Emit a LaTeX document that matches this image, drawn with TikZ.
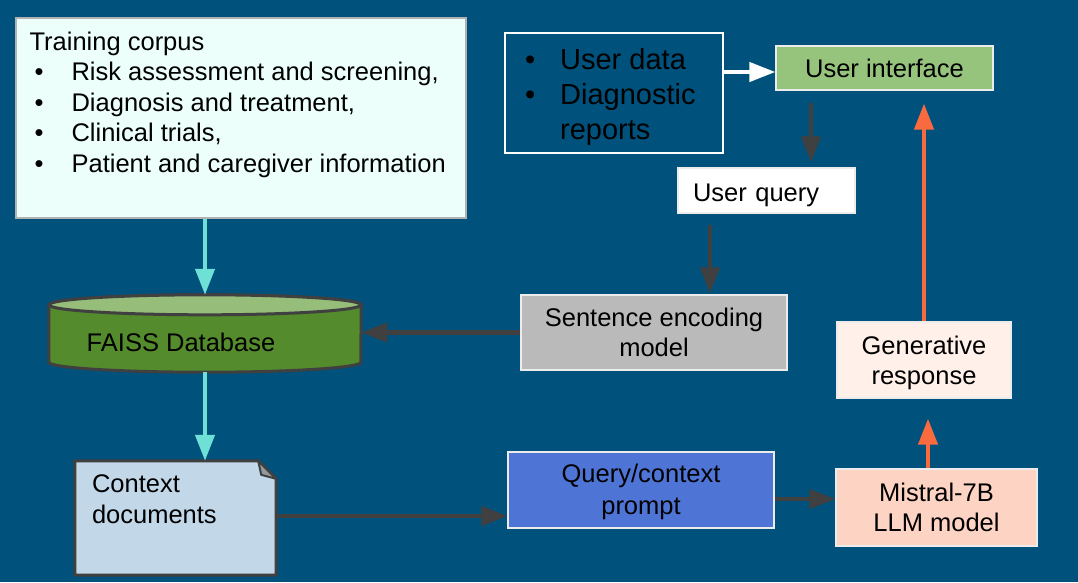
\documentclass[tikz,border=0pt]{standalone}
\usepackage{fontspec}
\setmainfont{Liberation Sans}
\usetikzlibrary{arrows.meta}
\definecolor{slidebg}{RGB}{0,81,124}
\definecolor{darkline}{RGB}{64,64,64}
\definecolor{corpusfill}{RGB}{236,255,250}
\definecolor{flowcyan}{RGB}{111,224,214}
\definecolor{dbbody}{RGB}{84,139,45}
\definecolor{dbtop}{RGB}{150,189,122}
\definecolor{docfill}{RGB}{194,216,233}
\definecolor{promptfill}{RGB}{78,116,214}
\definecolor{llmfill}{RGB}{253,212,196}
\definecolor{genfill}{RGB}{255,240,234}
\definecolor{uifill}{RGB}{151,196,125}
\definecolor{encfill}{RGB}{186,186,186}
\definecolor{flowred}{RGB}{249,106,62}

\begin{document}
\begin{tikzpicture}[x=1pt, y=-1pt,
    box/.style={rectangle, draw=white!85!gray, line width=1.2pt, inner sep=0pt, align=center, font=\fontsize{25.5}{30.5}\selectfont},
    txt/.style={inner sep=0pt, align=left, font=\fontsize{25.5}{30.5}\selectfont},
    darrow/.style={-{Triangle[length=26pt,width=19pt]}, line width=4.2pt, draw=darkline},
    carrow/.style={darrow, draw=flowcyan},
    rarrow/.style={darrow, draw=flowred},
    warrow/.style={darrow, draw=white}]
    \fill[slidebg] (0,0) rectangle (1078,582);

    \node[box, fill=corpusfill, draw=gray!60, minimum width=450pt, minimum height=200pt] (corpus) at (241,118) {};
    \node[txt, anchor=north west] (corpustxt) at ([xshift=14pt,yshift=-14pt]corpus.north west) {Training corpus\\
        \hspace*{5pt}\makebox[37pt][l]{\textbullet}Risk assessment and screening,\\
        \hspace*{5pt}\makebox[37pt][l]{\textbullet}Diagnosis and treatment,\\
        \hspace*{5pt}\makebox[37pt][l]{\textbullet}Clinical trials,\\
        \hspace*{5pt}\makebox[37pt][l]{\textbullet}Patient and caregiver information};

    \node[box, draw=white, minimum width=218pt, minimum height=120pt] (udata) at (614,93) {};
    \node[txt, anchor=north west, font=\fontsize{29}{35}\selectfont] (udtxt) at (525,48) {\makebox[35pt][l]{\textbullet}User data\\
        \makebox[35pt][l]{\textbullet}Diagnostic\\
        \hspace*{35pt}reports};
    \node[box, fill=uifill, minimum width=217pt, minimum height=44pt] (ui) at (884.5,68) {User interface};
    \node[box, fill=white, minimum width=177pt, minimum height=45pt, text width=147pt, align=left, text height=21pt, text depth=0pt] (uquery) at (766.5,190.5) {User query};
    \node[box, fill=encfill, minimum width=266pt, minimum height=75pt] (encoder) at (654,332.5) {Sentence encoding\\model};
    \node[box, fill=genfill, minimum width=174pt, minimum height=76pt] (genresp) at (924,360) {};
    \node[txt, align=center] (gentxt) at (924,363) {Generative\\response};
    \node[box, fill=promptfill, minimum width=266pt, minimum height=76pt] (prompt) at (641,490) {};
    \node[txt, align=center, font=\fontsize{25.5}{32}\selectfont] (prompttxt) at (641,492) {Query/context\\prompt};
    \node[box, fill=llmfill, minimum width=201pt, minimum height=77pt] (llm) at (936.5,507.5) {Mistral-7B\\LLM model};

    \node[minimum width=312pt, minimum height=77pt, inner sep=0pt] (faiss) at (205,333.5) {};
    \draw[fill=dbbody, draw=darkline, line width=3pt] ([yshift=-10pt]faiss.north west) -- ([yshift=10pt]faiss.south west)
        arc[start angle=180, end angle=360, x radius=156pt, y radius=10pt]
        -- ([yshift=-10pt]faiss.north east) arc[start angle=0, end angle=180, x radius=156pt, y radius=10pt] -- cycle;
    \draw[fill=dbtop, draw=darkline, line width=3pt] ([yshift=-10pt]faiss.north) ellipse[x radius=156pt, y radius=10pt];
    \node[txt] (faisstxt) at (181,342) {FAISS Database};

    \node[minimum width=201pt, minimum height=114pt, inner sep=0pt] (ctxdoc) at (175.5,518) {};
    \draw[fill=docfill, draw=darkline, line width=3pt, line join=round] (ctxdoc.north west) -- ([xshift=-18pt]ctxdoc.north east)
        -- ([yshift=-18pt]ctxdoc.north east) -- (ctxdoc.south east) -- (ctxdoc.south west) -- cycle;
    \draw[fill=gray!70!docfill, draw=darkline, line width=2pt, line join=round] ([xshift=-18pt]ctxdoc.north east)
        -- ([xshift=-15pt,yshift=-14pt]ctxdoc.north east) -- ([yshift=-18pt]ctxdoc.north east) -- cycle;
    \node[txt, anchor=north west] (ctxtxt) at ([xshift=17pt,yshift=-14pt]ctxdoc.north west) {Context\\documents};

    \draw[carrow] (faiss.north |- corpus.south) -- (faiss.north);
    \draw[carrow] (faiss.south) -- (faiss.south |- ctxdoc.north);
    \draw[darrow] ([yshift=2pt]ctxdoc.east) -- ([yshift=2pt]ctxdoc.east -| prompt.west);
    \draw[darrow] ([yshift=-9pt]prompt.east) -- ([yshift=-9pt]prompt.east -| llm.west);
    \draw[rarrow, shorten >=20pt] ([xshift=-8.5pt]llm.north) -- ([xshift=-8.5pt]llm.north |- genresp.south);
    \draw[rarrow, shorten >=13pt] (genresp.north) -- (genresp.north |- ui.south);
    \draw[warrow] ([yshift=-4pt]udata.east |- ui.west) -- ([yshift=-4pt]ui.west);
    \draw[darrow, shorten <=12pt, shorten >=5pt] ([xshift=-73.5pt]ui.south) -- ([xshift=-73.5pt]ui.south |- uquery.north);
    \draw[darrow, shorten <=11pt, shorten >=1pt] ([xshift=-56.5pt]uquery.south) -- ([xshift=-56.5pt]uquery.south |- encoder.north);
    \draw[darrow] (encoder.west) -- (encoder.west -| faiss.east);
\end{tikzpicture}
\end{document}
